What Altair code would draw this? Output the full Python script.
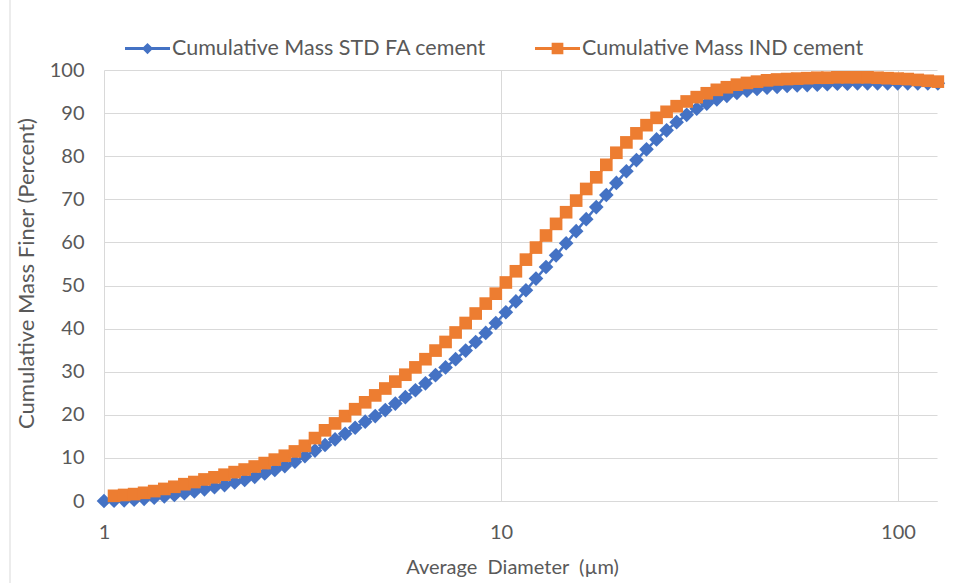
import altair as alt
import pandas as pd

# ---- data ----
diameter_um = [
    1.000, 1.060, 1.124, 1.191, 1.262, 1.338, 1.419, 1.504, 1.594, 1.689,
    1.791, 1.898, 2.012, 2.133, 2.261, 2.397, 2.540, 2.693, 2.854, 3.026,
    3.207, 3.400, 3.604, 3.820, 4.049, 4.292, 4.549, 4.822, 5.112, 5.418,
    5.743, 6.088, 6.453, 6.841, 7.251, 7.686, 8.147, 8.636, 9.154, 9.704,
    10.286, 10.903, 11.557, 12.250, 12.985, 13.765, 14.590, 15.466, 16.394, 17.378,
    18.420, 19.526, 20.697, 21.939, 23.255, 24.651, 26.130, 27.698, 29.359, 31.121,
    32.988, 34.968, 37.066, 39.290, 41.647, 44.146, 46.794, 49.602, 52.578, 55.733,
    59.077, 62.621, 66.378, 70.361, 74.583, 79.058, 83.802, 88.830, 94.160, 99.809,
    105.80, 112.15, 118.87, 126.01,
]

std_fa_cement = [
    0.0, 0.05, 0.15, 0.3, 0.5, 0.75, 1.05, 1.4, 1.8, 2.2,
    2.7, 3.2, 3.7, 4.3, 4.9, 5.6, 6.4, 7.2, 8.1, 9.1,
    10.4, 11.7, 13.0, 14.3, 15.6, 17.0, 18.4, 19.7, 21.1, 22.6,
    24.1, 25.7, 27.3, 29.2, 31.0, 32.9, 34.9, 36.9, 39.0, 41.3,
    43.8, 46.3, 48.9, 51.6, 54.3, 57.0, 59.8, 62.6, 65.4, 68.2,
    71.0, 73.8, 76.5, 79.1, 81.6, 83.9, 86.0, 87.9, 89.6, 91.0,
    92.2, 93.2, 94.0, 94.7, 95.2, 95.6, 95.9, 96.1, 96.3, 96.4,
    96.5, 96.6, 96.7, 96.8, 96.8, 96.9, 96.9, 96.9, 96.9, 96.9,
    96.9, 96.9, 96.9, 96.9,
]

# IND cement series starts at the second diameter
ind_cement = [
    1.2, 1.4, 1.6, 1.9, 2.3, 2.8, 3.3, 3.9, 4.4, 5.0,
    5.5, 6.1, 6.7, 7.3, 8.0, 8.8, 9.6, 10.5, 11.5, 12.8,
    14.6, 16.4, 18.0, 19.7, 21.3, 22.9, 24.5, 26.1, 27.7, 29.3,
    31.0, 32.9, 34.9, 36.9, 39.1, 41.3, 43.5, 45.8, 48.1, 50.7,
    53.3, 56.0, 58.8, 61.6, 64.3, 67.0, 69.7, 72.4, 75.1, 78.0,
    80.8, 83.2, 85.3, 87.2, 88.9, 90.3, 91.6, 92.7, 93.7, 94.6,
    95.4, 96.0, 96.6, 97.0, 97.3, 97.6, 97.8, 97.9, 98.0, 98.1,
    98.2, 98.2, 98.3, 98.3, 98.3, 98.3, 98.2, 98.1, 98.0, 97.9,
    97.7, 97.5, 97.3,
]

series_names = ["Cumulative Mass STD FA cement", "Cumulative Mass IND cement"]
series_colors = ["#4472C4", "#ED7D31"]
x_ticks = [1, 10, 100]
y_ticks = [0, 10, 20, 30, 40, 50, 60, 70, 80, 90, 100]

df_std = pd.DataFrame({"d": diameter_um, "v": std_fa_cement, "series": series_names[0]})
df_ind = pd.DataFrame({"d": diameter_um[1:], "v": ind_cement, "series": series_names[1]})
df_legend = pd.DataFrame({"series": series_names})

FONT = "Lato"
TXT = "#595959"
GRID = "#d9d9d9"

x_enc = alt.X(
    "d:Q",
    scale=alt.Scale(type="log", domain=[1, 125.4], nice=False),
    axis=alt.Axis(
        values=x_ticks, format="d", title="Average\u00a0 Diameter\u00a0 (µm)",
        grid=True, gridColor=GRID, gridWidth=1,
        domain=True, domainColor=GRID, ticks=False, tickSize=0,
        labelFont=FONT, labelFontSize=20, labelColor=TXT, labelPadding=21,
        titleFont=FONT, titleFontSize=20, titleColor=TXT, titleFontWeight="normal",
        titlePadding=15, labelFlush=False, titleX=408,
    ),
)
y_enc = alt.Y(
    "v:Q",
    scale=alt.Scale(domain=[0, 100], nice=False),
    axis=alt.Axis(
        values=y_ticks, title="Cumulative Mass Finer (Percent)",
        grid=True, gridColor=GRID, gridWidth=1,
        domain=False, ticks=False, tickSize=0,
        labelFont=FONT, labelFontSize=20, labelColor=TXT, labelPadding=20,
        titleFont=FONT, titleFontSize=22, titleColor=TXT, titleFontWeight="normal",
        titleX=-66, titleY=203,
    ),
)

std_line = alt.Chart(df_std).mark_line(color=series_colors[0], strokeWidth=2.5).encode(x=x_enc, y=y_enc)
std_pts = alt.Chart(df_std).mark_point(
    shape="diamond", filled=True, size=215, color=series_colors[0], opacity=1
).encode(x=x_enc, y=y_enc)
ind_line = alt.Chart(df_ind).mark_line(color=series_colors[1], strokeWidth=2.5).encode(x=x_enc, y=y_enc)
ind_pts = alt.Chart(df_ind).mark_point(
    shape="square", filled=True, size=160, color=series_colors[1], opacity=1
).encode(x=x_enc, y=y_enc)

# legend-only layer (no marks drawn): symbol = line with marker
blue_sym = "M-1,-0.067L1,-0.067L1,0.067L-1,0.067Z M-0.25,0L0,-0.25L0.25,0L0,0.25Z"
orange_sym = "M-1,-0.067L1,-0.067L1,0.067L-1,0.067Z M-0.26,-0.26L0.26,-0.26L0.26,0.26L-0.26,0.26Z"
leg = alt.Legend(
    title=None, orient="none", direction="horizontal",
    legendX=21, legendY=-44,
    labelFont=FONT, labelFontSize=21.5, labelColor=TXT, labelLimit=500,
    symbolSize=2025, symbolStrokeWidth=0, labelOffset=2, columnPadding=48,
)
legend_layer = alt.Chart(df_legend).mark_point(filled=True, size=2025, opacity=1).encode(
    color=alt.Color(
        "series:N",
        scale=alt.Scale(domain=series_names, range=series_colors),
        sort=series_names,
        legend=leg,
    ),
    shape=alt.Shape(
        "series:N",
        scale=alt.Scale(domain=series_names, range=[blue_sym, orange_sym]),
        sort=series_names,
        legend=leg,
    ),
).transform_filter("false")

border = alt.Chart(pd.DataFrame({"a": [0]})).mark_rule(color=GRID, strokeWidth=1).encode(
    x=alt.value(-94), y=alt.value(-70), y2=alt.value(513)
)

chart = alt.layer(border, std_line, std_pts, ind_line, ind_pts, legend_layer).properties(
    width=833,
    height=431,
    padding={"left": 104, "top": 70, "right": 25, "bottom": 82},
    autosize=alt.AutoSizeParams(type="none"),
    background="white",
).configure_view(stroke=None)

chart.save("out.html", embed_options={"renderer": "svg", "actions": False})
